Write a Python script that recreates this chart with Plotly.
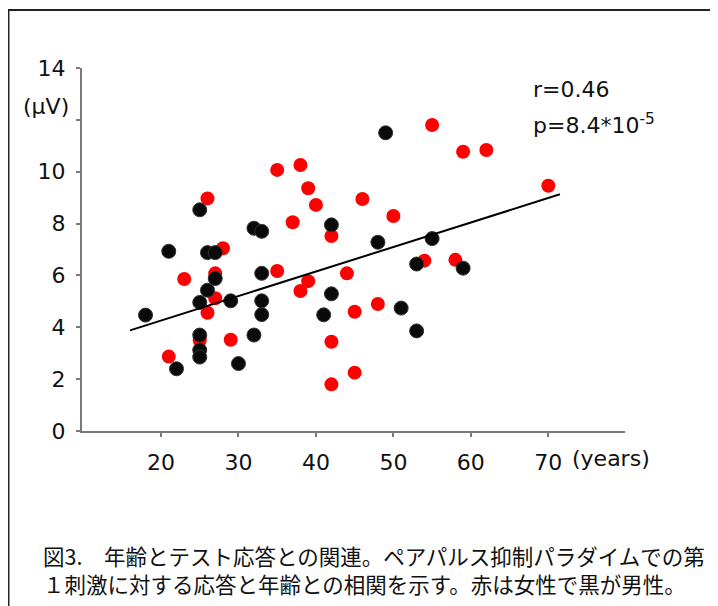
import plotly.graph_objects as go

# Women (red)
female_age = [21, 23, 25, 26, 26, 27, 27, 28, 29, 35, 35, 37, 38, 38, 39, 39, 40,
              42, 42, 42, 44, 45, 45, 46, 48, 50, 54, 55, 58, 59, 62, 70]
female_amp = [2.87, 5.86, 3.5, 8.97, 4.56, 6.08, 5.12, 7.05, 3.52, 10.07, 6.17, 8.05,
              10.26, 5.40, 9.36, 5.78, 8.72, 7.52, 3.44, 1.80, 6.08, 4.60, 2.25, 8.95,
              4.90, 8.29, 6.57, 11.8, 6.6, 10.77, 10.84, 9.46]

# Men (black)
male_age = [18, 21, 22, 25, 25, 25, 25, 25, 26, 26, 27, 27, 29, 30, 32, 33, 33, 33,
            33, 32, 41, 42, 42, 48, 49, 51, 53, 53, 55, 59]
male_amp = [4.47, 6.93, 2.40, 8.53, 4.96, 3.70, 3.12, 2.85, 5.43, 6.88, 6.88, 5.88,
            5.02, 2.60, 7.82, 7.70, 6.08, 5.02, 4.49, 3.70, 4.48, 7.95, 5.29, 7.28,
            11.5, 4.74, 6.44, 3.86, 7.42, 6.28]

# Regression line end points
trend_age = [16, 71.5]
trend_amp = [3.88, 9.13]

x_tickvals = [20, 30, 40, 50, 60, 70]
x_ticktext = ["20", "30", "40", "50", "60", "70"]
x_minor_ticks = [80]
y_tickvals = [0, 2, 4, 6, 8, 10, 14]
y_ticktext = ["0", "2", "4", "6", "8", "10", "14"]
y_minor_ticks = [12]

caption_1 = "図3.　年齢とテスト応答との関連。ペアパルス抑制パラダイムでの第"
caption_2 = "１刺激に対する応答と年齢との相関を示す。赤は女性で黒が男性。"

NUM_FONT = "DejaVu Sans, Liberation Sans, Arial, sans-serif"
CJK_FONT = "Noto Sans CJK JP, Noto Sans CJK SC, sans-serif"

fig = go.Figure()
fig.add_trace(go.Scatter(x=female_age, y=female_amp, mode="markers",
                         marker=dict(color="#ff0000", size=14, line=dict(width=0)),
                         showlegend=False, hoverinfo="skip"))
fig.add_trace(go.Scatter(x=male_age, y=male_amp, mode="markers",
                         marker=dict(color="#0a0a0a", size=14,
                                     line=dict(width=1, color="#333333")),
                         showlegend=False, hoverinfo="skip"))
fig.add_trace(go.Scatter(x=trend_age, y=trend_amp, mode="lines",
                         line=dict(color="#000000", width=2),
                         showlegend=False, hoverinfo="skip"))

axis_gray = "#7a7a7a"
fig.update_xaxes(range=[9.8, 79.9], tickmode="array", tickvals=x_tickvals,
                 ticktext=x_ticktext, showgrid=False, zeroline=False,
                 showline=True, linecolor=axis_gray, linewidth=2,
                 ticks="outside", ticklen=4, tickwidth=2, tickcolor=axis_gray,
                 minor=dict(tickmode="array", tickvals=x_minor_ticks, ticks="outside",
                            ticklen=4, tickwidth=2, tickcolor=axis_gray, showgrid=False),
                 ticklabelstandoff=7,
                 tickfont=dict(family=NUM_FONT, size=22, color="#111111"))
fig.update_yaxes(range=[0, 14], tickmode="array", tickvals=y_tickvals,
                 ticktext=y_ticktext, showgrid=False, zeroline=False,
                 showline=True, linecolor=axis_gray, linewidth=2,
                 ticks="outside", ticklen=4, tickwidth=2, tickcolor=axis_gray,
                 minor=dict(tickmode="array", tickvals=y_minor_ticks, ticks="outside",
                            ticklen=4, tickwidth=2, tickcolor=axis_gray, showgrid=False),
                 ticklabelstandoff=6,
                 tickfont=dict(family=NUM_FONT, size=22, color="#111111"))

annotations = [
    dict(text="(μV)", xref="paper", x=0, xanchor="right", xshift=-11,
         yref="y", y=12.5, yanchor="middle", showarrow=False,
         font=dict(family=NUM_FONT, size=22, color="#111111")),
    dict(text="(years)", xref="x", x=70, xanchor="left", xshift=22,
         yref="paper", y=0, yanchor="top", yshift=-13, showarrow=False,
         font=dict(family=NUM_FONT, size=22, color="#111111")),
    dict(text="r=0.46", xref="x", x=67.7, xanchor="left",
         yref="y", y=13.19, yanchor="middle", showarrow=False,
         font=dict(family=NUM_FONT, size=22, color="#111111")),
    dict(text="p=8.4*10<sup>-5</sup>", xref="x", x=67.7, xanchor="left",
         yref="y", y=11.84, yanchor="middle", showarrow=False,
         font=dict(family=NUM_FONT, size=22, color="#111111")),
    dict(text=caption_1 + "<br>" + caption_2, xref="paper", x=-0.0755,
         xanchor="left", align="left",
         yref="paper", y=-0.382, yanchor="middle", showarrow=False,
         font=dict(family=CJK_FONT, size=21.5, color="#111111")),
]

# The page adds an 8 px body margin, so the figure is laid out 8 px up/left.
fig.update_layout(
    width=710, height=598,
    margin=dict(l=74, r=93, t=60, b=175, pad=0),
    paper_bgcolor="white", plot_bgcolor="white",
    annotations=annotations,
    shapes=[dict(type="rect", xref="paper", yref="paper",
                 x0=-0.1354, x1=1.1694, y0=-0.53, y1=1.1598,
                 line=dict(color="#222222", width=2), layer="below")],
)

fig.write_html("out.html")
